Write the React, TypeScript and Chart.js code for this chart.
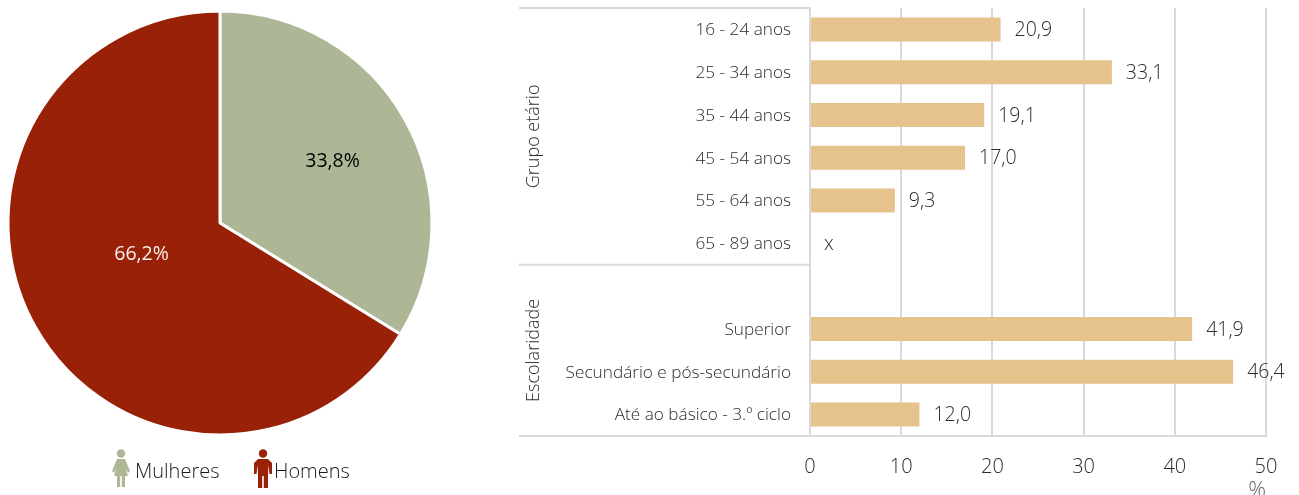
import React, { useEffect, useRef } from "react";
import { Chart, registerables } from "chart.js";

Chart.register(...registerables);

const FONT = '"Open Sans", "Noto Sans", sans-serif';
const TEXT = "#2B2B2B";
const GRID = "#D9D9D9";

const genderLabels = ["Mulheres", "Homens"];
const genderValues = [33.8, 66.2];
const genderColors = ["#AEB795", "#992108"];
const genderTextColors = ["#000000", "#F8F0EA"];

const rowLabels = [
  "16 - 24 anos",
  "25 - 34 anos",
  "35 - 44 anos",
  "45 - 54 anos",
  "55 - 64 anos",
  "65 - 89 anos",
  "",
  "Superior",
  "Secundário e pós-secundário",
  "Até ao básico - 3.º ciclo",
];
const rowValues: (number | null)[] = [20.9, 33.1, 19.1, 17.0, 9.3, null, null, 41.9, 46.4, 12.0];
const rowSuppressed = ["65 - 89 anos"];
const groupNames = ["Grupo etário", "Escolaridade"];
const groupEdges = [-0.5, 5.5, 9.5];

const ptNumber = (v: number) => v.toFixed(1).replace(".", ",");

function drawPerson(g: CanvasRenderingContext2D, kind: "f" | "m", ox: number, oy: number, color: string) {
  g.save();
  g.translate(ox, oy);
  g.fillStyle = color;
  g.beginPath();
  g.arc(10, 4.5, 4.2, 0, Math.PI * 2);
  g.fill();
  g.beginPath();
  if (kind === "f") {
    g.moveTo(6, 10);
    g.lineTo(14, 10);
    g.lineTo(19, 22);
    g.lineTo(17, 24);
    g.lineTo(14.5, 19);
    g.lineTo(17, 27);
    g.lineTo(14, 27);
    g.lineTo(14, 38);
    g.lineTo(10.8, 38);
    g.lineTo(10.8, 27);
    g.lineTo(9.2, 27);
    g.lineTo(9.2, 38);
    g.lineTo(6, 38);
    g.lineTo(6, 27);
    g.lineTo(3, 27);
    g.lineTo(5.5, 19);
    g.lineTo(3, 24);
    g.lineTo(1, 22);
  } else {
    g.moveTo(5, 10);
    g.lineTo(15, 10);
    g.lineTo(19, 14);
    g.lineTo(19, 25);
    g.lineTo(16.5, 25);
    g.lineTo(15.5, 16);
    g.lineTo(15, 26);
    g.lineTo(15, 39);
    g.lineTo(10.8, 39);
    g.lineTo(10.8, 27);
    g.lineTo(9.2, 27);
    g.lineTo(9.2, 39);
    g.lineTo(5, 39);
    g.lineTo(5, 26);
    g.lineTo(4.5, 16);
    g.lineTo(3.5, 25);
    g.lineTo(1, 25);
    g.lineTo(1, 14);
  }
  g.closePath();
  g.fill();
  g.restore();
}

const pieLabelsPlugin = {
  id: "pieLabels",
  afterDraw(chart: any) {
    const ctx = chart.ctx;
    const arcs = chart.getDatasetMeta(0).data;
    const shift = [[0.531, -0.29], [-0.37, 0.146]];
    ctx.save();
    ctx.font = `400 19.5px ${FONT}`;
    ctx.textAlign = "center";
    ctx.textBaseline = "middle";
    arcs.forEach((arc: any, i: number) => {
      ctx.fillStyle = genderTextColors[i];
      ctx.fillText(
        `${ptNumber(genderValues[i])}%`,
        arc.x + shift[i][0] * arc.outerRadius,
        arc.y + shift[i][1] * arc.outerRadius
      );
    });
    // legend
    const iconX = [111, 253];
    const textX = [135, 274];
    ctx.font = `300 20px ${FONT}`;
    ctx.textAlign = "left";
    ctx.fillStyle = "#1A1A1A";
    genderLabels.forEach((name, i) => {
      drawPerson(ctx, i === 0 ? "f" : "m", iconX[i], 449, genderColors[i]);
      ctx.fillText(name, textX[i], 472);
    });
    ctx.restore();
  },
};

const barAnnotationsPlugin = {
  id: "barAnnotations",
  afterDraw(chart: any) {
    const ctx = chart.ctx;
    const { x, y } = chart.scales;
    const meta = chart.getDatasetMeta(0);
    const leftEnd = 19;
    ctx.save();
    ctx.strokeStyle = GRID;
    ctx.lineWidth = 2;
    groupEdges.forEach((edge) => {
      const py = y.getPixelForValue(edge);
      ctx.beginPath();
      ctx.moveTo(leftEnd, py);
      ctx.lineTo(x.getPixelForValue(0), py);
      ctx.stroke();
    });
    ctx.fillStyle = TEXT;
    ctx.font = `300 18px ${FONT}`;
    ctx.textAlign = "center";
    ctx.textBaseline = "middle";
    groupNames.forEach((name, i) => {
      const cy = (y.getPixelForValue(groupEdges[i]) + y.getPixelForValue(groupEdges[i + 1])) / 2;
      ctx.save();
      ctx.translate(34, cy);
      ctx.rotate(-Math.PI / 2);
      ctx.fillText(name, 0, 0);
      ctx.restore();
    });
    ctx.font = `300 19.5px ${FONT}`;
    ctx.textAlign = "left";
    rowValues.forEach((v, i) => {
      const bar = meta.data[i];
      if (v !== null) {
        ctx.fillText(ptNumber(v), bar.x + 14, bar.y + 1);
      } else if (rowSuppressed.includes(rowLabels[i])) {
        ctx.fillText("x", x.getPixelForValue(0) + 14, bar.y + 1);
      }
    });
    ctx.restore();
  },
};

export default function App() {
  const pieRef = useRef<HTMLCanvasElement>(null);
  const barRef = useRef<HTMLCanvasElement>(null);

  useEffect(() => {
    document.body.style.margin = "0";
    const pie = new Chart(pieRef.current!, {
      type: "pie",
      data: {
        labels: genderLabels,
        datasets: [
          {
            data: genderValues,
            backgroundColor: genderColors,
            borderColor: "#FFFFFF",
            borderWidth: 3,
            radius: 212,
          } as any,
        ],
      },
      options: {
        responsive: false,
        animation: false,
        layout: { padding: { left: 0, right: 0, top: 0, bottom: 49 } },
        plugins: {
          tooltip: { enabled: false },
          legend: { display: false },
        },
      },
      plugins: [pieLabelsPlugin],
    });

    const bar = new Chart(barRef.current!, {
      type: "bar",
      data: {
        labels: rowLabels,
        datasets: [
          {
            data: rowValues,
            backgroundColor: "#E6C28D",
            barPercentage: 0.56,
            categoryPercentage: 1,
          },
        ],
      },
      options: {
        indexAxis: "y",
        responsive: false,
        animation: false,
        layout: { padding: { left: 0, right: 33, top: 8, bottom: 0 } },
        plugins: { legend: { display: false }, tooltip: { enabled: false } },
        scales: {
          x: {
            min: 0,
            max: 50,
            afterFit: (s: any) => {
              s.height = 59;
            },
            ticks: {
              stepSize: 10,
              color: TEXT,
              padding: 19,
              maxRotation: 0,
              font: { family: FONT, size: 20, weight: 300 as any },
            },
            grid: { color: GRID, lineWidth: 2, drawTicks: false },
            border: { color: GRID, width: 2 },
            title: {
              display: true,
              text: "%",
              align: "end",
              color: "#666666",
              font: { family: FONT, size: 22, weight: 300 as any, lineHeight: 1 },
              padding: { top: 0, bottom: -7 },
            },
          },
          y: {
            afterFit: (s: any) => {
              s.width = 310;
              s.paddingTop = 0;
              s.paddingBottom = 0;
            },
            ticks: {
              color: TEXT,
              padding: 19,
              autoSkip: false,
              labelOffset: 1,
              font: { family: FONT, size: 17.2, weight: 300 as any },
            },
            grid: { display: false, drawTicks: false },
            border: { color: GRID, width: 2 },
          },
        },
      },
      plugins: [barAnnotationsPlugin],
    });

    return () => {
      pie.destroy();
      bar.destroy();
    };
  }, []);

  return (
    <div style={{ position: "fixed", left: 0, top: 0, width: 1299, height: 495, overflow: "hidden", background: "#fff" }}>
      <canvas ref={pieRef} width={440} height={495} style={{ position: "absolute", left: 0, top: 0, width: 440, height: 495 }} />
      <canvas ref={barRef} width={799} height={495} style={{ position: "absolute", left: 500, top: 0, width: 799, height: 495 }} />
    </div>
  );
}
